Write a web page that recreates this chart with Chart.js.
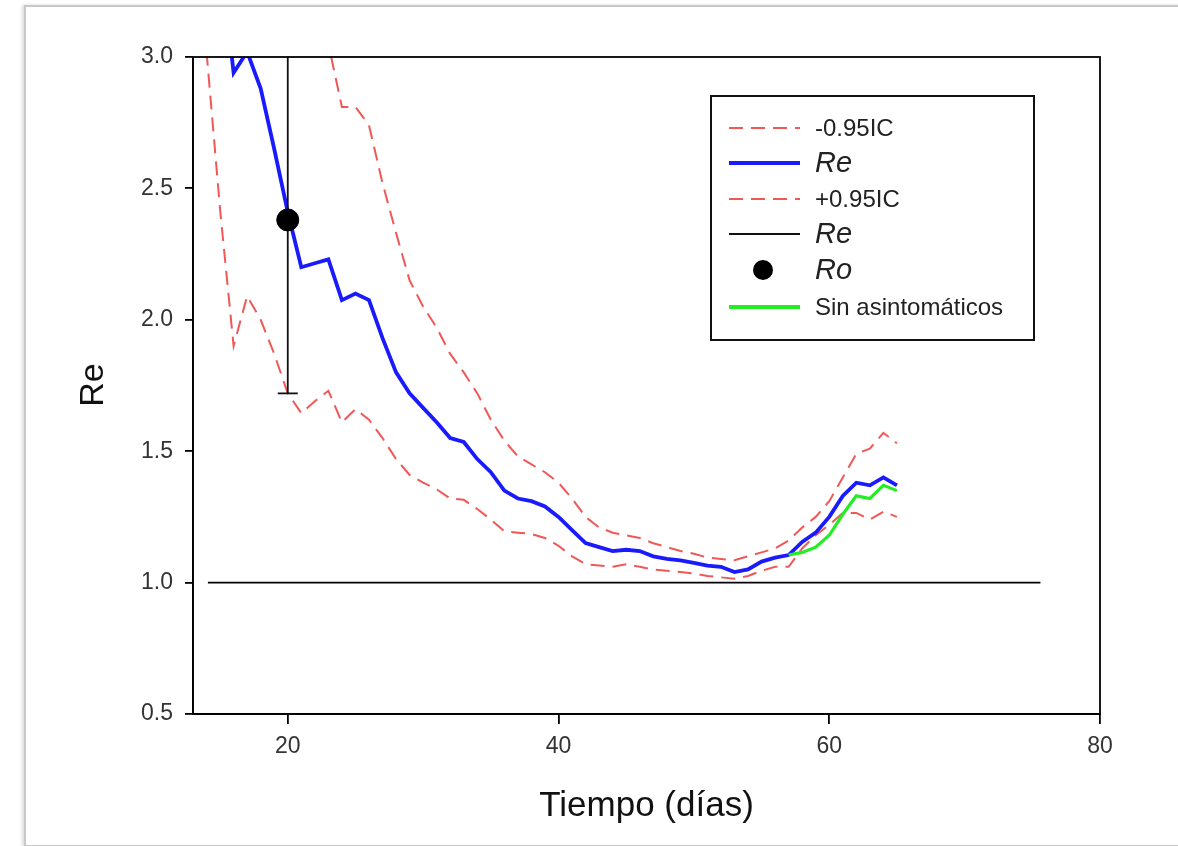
<!DOCTYPE html>
<html>
<head>
<meta charset="utf-8">
<script src="https://cdn.jsdelivr.net/npm/chart.js@4/dist/chart.umd.min.js"></script>
<style>
  html, body { margin: 0; padding: 0; background: #fff; }
  #wrap { position: relative; width: 1178px; height: 846px; overflow: hidden; }
  #frame { position: absolute; left: 24px; top: 5px; width: 1200px; height: 838px;
           border: 2px solid #c8c8c8; box-shadow: -2px 0 3px #ddd; }
  canvas { position: absolute; left: 0; top: 0; }
</style>
</head>
<body>
<div id="wrap">
  <div id="frame"></div>
  <canvas id="c" width="1178" height="846"></canvas>
</div>
<script>
// ---- Data ----
const reDays = [15,16,17,18,19,20,21,22,23,24,25,26,27,28,29,30,31,32,33,34,35,36,37,38,39,40,
                41,42,43,44,45,46,47,48,49,50,51,52,53,54,55,56,57,58,59,60,61,62,63,64,65];
const reValues = [3.4,2.94,3.02,2.88,2.65,2.41,2.20,2.215,2.23,2.075,2.10,2.075,1.93,1.80,1.72,1.665,1.61,1.55,1.535,1.47,1.42,1.35,1.32,1.31,1.29,1.25,
                  1.20,1.15,1.135,1.12,1.125,1.12,1.10,1.09,1.085,1.075,1.065,1.06,1.04,1.05,1.08,1.095,1.105,1.155,1.19,1.25,1.33,1.38,1.37,1.40,1.37];

const lowerDays = [14,15,16,17,18,19,20,21,22,23,24,25,26,27,28,29,30,31,32,33,34,35,36,37,38,39,40,
                   41,42,43,44,45,46,47,48,49,50,51,52,53,54,55,56,57,58,59,60,61,62,63,64,65];
const lowerValues = [3.02,2.42,1.90,2.09,2.00,1.87,1.72,1.645,1.69,1.73,1.61,1.66,1.62,1.55,1.47,1.41,1.38,1.355,1.32,1.315,1.28,1.24,1.195,1.19,1.185,1.17,1.14,
                     1.10,1.07,1.065,1.06,1.07,1.06,1.05,1.045,1.04,1.035,1.025,1.02,1.015,1.025,1.045,1.06,1.06,1.13,1.18,1.22,1.265,1.265,1.24,1.27,1.25];

const upperDays = [22,23,24,25,26,27,28,29,30,31,32,33,34,35,36,37,38,39,40,
                   41,42,43,44,45,46,47,48,49,50,51,52,53,54,55,56,57,58,59,60,61,62,63,64,65];
const upperValues = [3.5,3.05,2.81,2.81,2.74,2.52,2.33,2.15,2.05,1.97,1.87,1.80,1.72,1.62,1.54,1.48,1.45,1.42,1.38,
                     1.32,1.25,1.21,1.19,1.18,1.17,1.15,1.135,1.12,1.11,1.095,1.09,1.085,1.10,1.115,1.13,1.16,1.21,1.25,1.31,1.40,1.49,1.51,1.57,1.53];

const greenDays = [57,58,59,60,61,62,63,64,65];
const greenValues = [1.105,1.115,1.135,1.18,1.26,1.33,1.32,1.37,1.35];

const refLineDays = [14.1, 75.6];
const refLineValues = [1.0, 1.0];

const errBarDays = [20, 20];
const errBarValues = [3.2, 1.72];

const roDays = [20];
const roValues = [2.38];

const xTickValues = [20, 40, 60, 80];
const yTickValues = [0.5, 1.0, 1.5, 2.0, 2.5, 3.0];

const legendLabels = ['-0.95IC', 'Re', '+0.95IC', 'Re', 'Ro', 'Sin asintomáticos'];

// ---- Build chart ----
const pts = (xs, ys) => xs.map((x, i) => ({ x: x, y: ys[i] }));
const RED = 'rgba(238,70,70,0.9)';
const BLUE = '#1a1aff';
const GREEN = '#22ee22';
const FONT = '"Liberation Sans", Arial, sans-serif';

const datasets = [
  { label: legendLabels[0], data: pts(lowerDays, lowerValues), borderColor: RED, borderWidth: 2, borderDash: [14, 8], pointRadius: 0, order: 5 },
  { label: legendLabels[2], data: pts(upperDays, upperValues), borderColor: RED, borderWidth: 2, borderDash: [14, 8], pointRadius: 0, order: 5 },
  { label: legendLabels[1], data: pts(reDays, reValues), borderColor: BLUE, borderWidth: 3.8, pointRadius: 0, order: 3 },
  { label: legendLabels[5], data: pts(greenDays, greenValues), borderColor: GREEN, borderWidth: 3.2, pointRadius: 0, order: 2 },
  { label: 'ref', data: pts(refLineDays, refLineValues), borderColor: '#000', borderWidth: 1.8, pointRadius: 0, order: 4 },
  { label: legendLabels[3], data: pts(errBarDays, errBarValues), borderColor: '#111', borderWidth: 1.8,
    pointStyle: 'line', pointRadius: [0, 10], pointBorderColor: '#111', pointBorderWidth: 1.8, order: 1 },
  { label: legendLabels[4], data: pts(roDays, roValues), showLine: false, pointStyle: 'circle', pointRadius: 11,
    pointBackgroundColor: '#000', pointBorderColor: '#000', order: 0 }
];

const decorPlugin = {
  id: 'decor',
  afterDraw(chart) {
    const ctx = chart.ctx;
    const a = chart.chartArea;
    ctx.save();
    // box around plot area
    ctx.strokeStyle = '#000';
    ctx.lineWidth = 1.8;
    ctx.strokeRect(a.left, a.top, a.right - a.left, a.bottom - a.top);

    // axis titles
    ctx.fillStyle = '#111';
    ctx.font = '35px ' + FONT;
    ctx.textAlign = 'center';
    ctx.textBaseline = 'middle';
    ctx.fillText('Tiempo (días)', (a.left + a.right) / 2, 806);
    ctx.save();
    ctx.translate(94, 385);
    ctx.rotate(-Math.PI / 2);
    ctx.font = '34px ' + FONT;
    ctx.fillText('Re', 0, 0);
    ctx.restore();

    // legend
    const lx = 711, ly = 96, lw = 323, lh = 244;
    ctx.fillStyle = '#fff';
    ctx.fillRect(lx, ly, lw, lh);
    ctx.strokeStyle = '#111';
    ctx.lineWidth = 2;
    ctx.strokeRect(lx, ly, lw, lh);
    const rows = [128, 163, 199, 234, 270, 307];
    const x0 = 729, x1 = 800, tx = 815;
    const styles = [
      { color: RED, w: 2, dash: [14, 8] },
      { color: BLUE, w: 3.8, dash: [] },
      { color: RED, w: 2, dash: [14, 8] },
      { color: '#111', w: 1.8, dash: [] },
      null,
      { color: GREEN, w: 3.8, dash: [] }
    ];
    const fonts = ['24px ', 'italic 29px ', '24px ', 'italic 29px ', 'italic 29px ', '24px '];
    rows.forEach((y, i) => {
      const s = styles[i];
      if (s) {
        ctx.beginPath();
        ctx.setLineDash(s.dash);
        ctx.strokeStyle = s.color;
        ctx.lineWidth = s.w;
        ctx.moveTo(x0, y);
        ctx.lineTo(x1, y);
        ctx.stroke();
        ctx.setLineDash([]);
      } else {
        ctx.beginPath();
        ctx.fillStyle = '#000';
        ctx.arc(763, y, 10, 0, Math.PI * 2);
        ctx.fill();
      }
      ctx.fillStyle = '#222';
      ctx.font = fonts[i] + FONT;
      ctx.textAlign = 'left';
      ctx.textBaseline = 'middle';
      ctx.fillText(legendLabels[i], tx, y + 1);
    });
    ctx.restore();
  }
};

new Chart(document.getElementById('c'), {
  type: 'line',
  data: { datasets: datasets },
  options: {
    responsive: false,
    animation: false,
    events: [],
    layout: { padding: { left: 0, top: 57, right: 78, bottom: 0 } },
    plugins: { legend: { display: false }, tooltip: { enabled: false } },
    elements: { line: { tension: 0, fill: false } },
    scales: {
      x: {
        type: 'linear',
        min: 13, max: 80,
        afterFit(scale) { scale.height = 132; },
        afterBuildTicks(scale) { scale.ticks = xTickValues.map(v => ({ value: v })); },
        grid: { drawOnChartArea: false, tickLength: 10, color: '#000', lineWidth: 1.8 },
        border: { display: true, color: '#000', width: 1.8 },
        ticks: { color: '#333', font: { family: FONT, size: 23 }, padding: 9, maxRotation: 0,
                  callback: v => String(v) }
      },
      y: {
        type: 'linear',
        min: 0.5, max: 3.0,
        afterFit(scale) { scale.width = 193; },
        afterBuildTicks(scale) { scale.ticks = yTickValues.map(v => ({ value: v })); },
        grid: { drawOnChartArea: false, tickLength: 8, color: '#000', lineWidth: 1.8 },
        border: { display: true, color: '#000', width: 1.8 },
        ticks: { color: '#333', font: { family: FONT, size: 23 }, padding: 12,
                  callback: v => Number(v).toFixed(1) }
      }
    }
  },
  plugins: [decorPlugin]
});
</script>
</body>
</html>
